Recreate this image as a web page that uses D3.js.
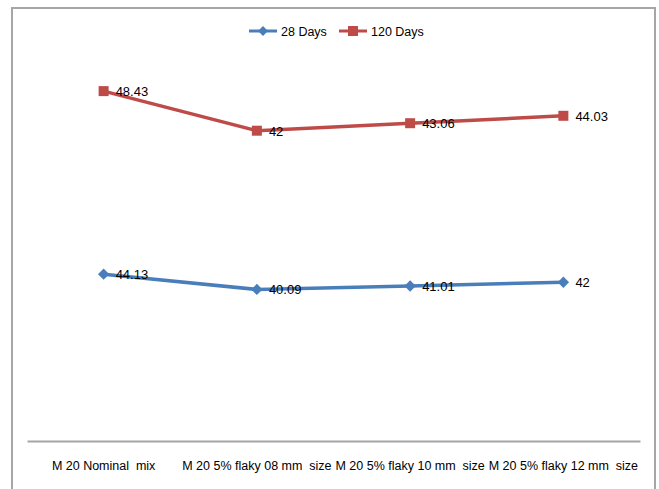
<!DOCTYPE html>
<html><head><meta charset="utf-8">
<script src="https://cdn.jsdelivr.net/npm/d3@7"></script>
<style>body{margin:0;background:#fff}svg{display:block}</style>
</head><body>
<svg id="c" width="659" height="489"></svg>
<script>
const categories = ["M 20 Nominal  mix","M 20 5% flaky 08 mm  size","M 20 5% flaky 10 mm  size","M 20 5% flaky 12 mm  size"];
const days28 = [44.13, 40.09, 41.01, 42];
const days120 = [48.43, 42, 43.06, 44.03];
const seriesNames = ["28 Days","120 Days"];
const colors = ["#4a7ebb","#be4b48"];

const svg = d3.select("#c");
// outer frame
svg.append("path").attr("d","M12,489 V8 H655 V489").attr("fill","none").attr("stroke","#a6a6a6").attr("stroke-width",2);

const x = d3.scaleBand().domain(categories).range([27,640]).padding(0);
const y = d3.scaleLinear().domain([0,100]).range([441,63]);

// stacked values
const stacked = d3.stack().keys([0,1]).value((d,k)=>d[k])(days28.map((v,i)=>[v, days120[i]]));

// axis
const xAxis = d3.axisBottom(x).tickSize(0).tickPadding(0);
const gx = svg.append("g").attr("transform","translate(0,441)").call(xAxis);
gx.select(".domain").attr("stroke","#a6a6a6").attr("stroke-width",2);
gx.selectAll("text").attr("font-family","'Liberation Sans Narrow','Liberation Sans',sans-serif").attr("font-size",12.5).attr("fill","#000").attr("dy","29").style("white-space","pre");

const line = d3.line().x((d,i)=>x(categories[i])+x.bandwidth()/2).y(d=>y(d[1]));
const raw = [days28, days120];
stacked.forEach((s,k)=>{
  svg.append("path").datum(s).attr("d",line).attr("fill","none").attr("stroke",colors[k]).attr("stroke-width",3.5);
  const g = svg.append("g");
  s.forEach((d,i)=>{
    const cx = x(categories[i])+x.bandwidth()/2, cy = y(d[1]);
    if(k===0){
      g.append("rect").attr("x",-4).attr("y",-4).attr("width",8).attr("height",8).attr("transform",`translate(${cx},${cy}) rotate(45)`).attr("fill",colors[k]);
    } else {
      g.append("rect").attr("x",cx-5).attr("y",cy-5).attr("width",10).attr("height",10).attr("fill",colors[k]);
    }
    g.append("text").attr("x",cx+12).attr("y",cy+5).attr("font-family","'Liberation Sans',Arial,sans-serif").attr("font-size",13).attr("fill","#000").text(raw[k][i]);
  });
});

// legend
const leg = [{x:249,name:seriesNames[0],k:0},{x:339,name:seriesNames[1],k:1}];
leg.forEach(l=>{
  const g = svg.append("g");
  g.append("line").attr("x1",l.x).attr("x2",l.x+28).attr("y1",31).attr("y2",31).attr("stroke",colors[l.k]).attr("stroke-width",3);
  const cx = l.x+14;
  if(l.k===0) g.append("rect").attr("x",-3.5).attr("y",-3.5).attr("width",7).attr("height",7).attr("transform",`translate(${cx},31) rotate(45)`).attr("fill",colors[0]);
  else g.append("rect").attr("x",cx-5).attr("y",26).attr("width",10).attr("height",10).attr("fill",colors[1]);
  g.append("text").attr("x",l.x+32).attr("y",35.5).attr("font-family","'Liberation Sans Narrow','Liberation Sans',sans-serif").attr("font-size",12.5).attr("fill","#000").text(l.name);
});
</script>
</body></html>
